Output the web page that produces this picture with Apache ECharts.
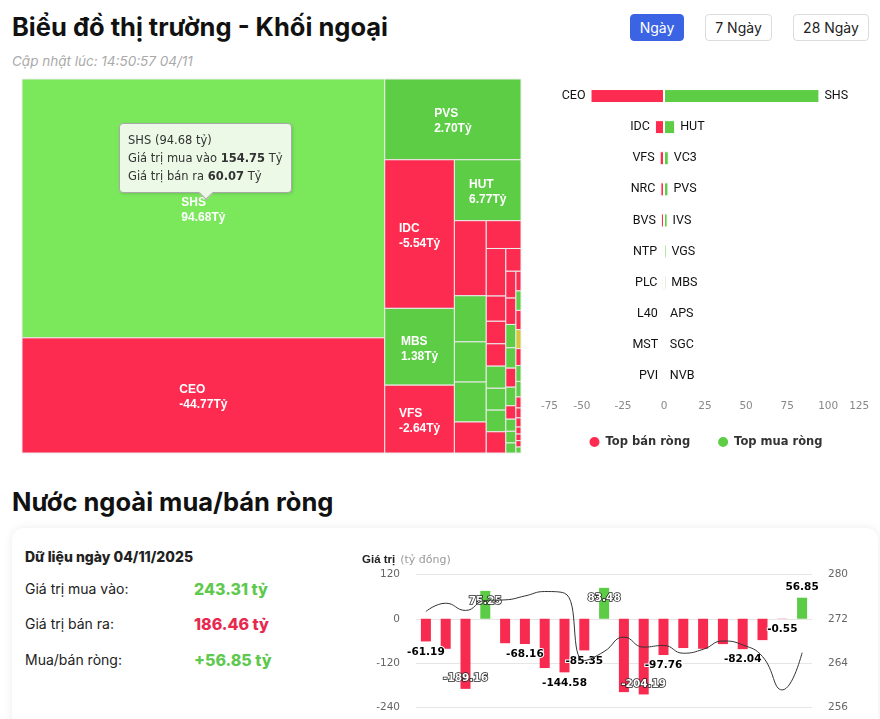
<!DOCTYPE html>
<html lang="vi">
<head>
<meta charset="utf-8">
<title>Biểu đồ thị trường - Khối ngoại</title>
<script src="https://cdn.jsdelivr.net/npm/echarts@6.0.0/dist/echarts.min.js"></script>
<style>
  html, body { margin: 0; padding: 0; width: 880px; height: 719px; overflow: hidden; background: #fff; font-family: Inter, 'Noto Sans', sans-serif; color: #111; }
  .abs { position: absolute; white-space: nowrap; }
  .h1 { font-size: 25.5px; font-weight: 700; line-height: 32px; color: #111; }
  .sub { font-size: 13.5px; font-style: italic; line-height: 20px; color: #aaa; }
  .btn { height: 27px; box-sizing: border-box; border: 1px solid #dcdcdc; border-radius: 4px; font-size: 14px; display: flex; align-items: center; justify-content: center; color: #222; background: #fff; }
  .btn.on { background: #3b64e5; border-color: #3b64e5; color: #fff; }
  .card { left: 12px; top: 528px; width: 866px; height: 230px; border-radius: 12px; background: #fff; box-shadow: 0 0 10px rgba(0,0,0,0.08); }
  .lbl { font-size: 14px; line-height: 20px; color: #222; }
  .val { font-size: 16px; font-weight: 800; line-height: 20px; }
</style>
</head>
<body>
<div class="abs h1" style="left:12px;top:11px;">Biểu đồ thị trường - Khối ngoại</div>
<div class="abs sub" style="left:12px;top:51px;">Cập nhật lúc: 14:50:57 04/11</div>
<div class="abs btn on" style="left:630px;top:14px;width:54px;">Ngày</div>
<div class="abs btn" style="left:705px;top:14px;width:67px;">7 Ngày</div>
<div class="abs btn" style="left:793px;top:14px;width:76px;">28 Ngày</div>

<div id="map" class="abs" style="left:0;top:60px;width:530px;height:400px;"></div>
<div id="top" class="abs" style="left:530px;top:75px;width:350px;height:385px;"></div>

<div class="abs h1" style="left:12px;top:486px;">Nước ngoài mua/bán ròng</div>
<div class="abs card"></div>
<div class="abs lbl" style="left:25px;top:547px;font-weight:800;">Dữ liệu ngày 04/11/2025</div>
<div class="abs lbl" style="left:25px;top:579px;">Giá trị mua vào:</div>
<div class="abs lbl" style="left:25px;top:614px;">Giá trị bán ra:</div>
<div class="abs lbl" style="left:25px;top:650px;">Mua/bán ròng:</div>
<div class="abs val" style="left:194px;top:579px;color:#5fc94f;">243.31 tỷ</div>
<div class="abs val" style="left:194px;top:614px;color:#e8294f;">186.46 tỷ</div>
<div class="abs val" style="left:194px;top:650px;color:#5fc94f;">+56.85 tỷ</div>
<div id="flow" class="abs" style="left:350px;top:540px;width:530px;height:200px;"></div>

<script>
// treemap: total traded value (tỷ) and net value per ticker
const mapNames = ['SHS', 'CEO', 'PVS', 'IDC', 'MBS', 'VFS', 'HUT', 'NRC', 'VC3', 'IVS', 'VGS', 'BVS',
  'NTP', 'PLC', 'L40', 'MST', 'PVI', 'APS', 'SGC', 'NVB', 'DDG', 'TNG', 'PVC', 'DTD', 'BCC', 'TIG',
  'HLD', 'VCS', 'LAS', 'DXP', 'PVB', 'THD', 'NBC', 'CAP', 'SLS', 'TVD', 'HHC', 'PVG', 'KLF', 'VIG',
  'SHN', 'BAB', 'AMV', 'ITQ', 'VNR', 'SCG'];
const mapTotals = [214.82, 95.57, 25.18, 23.68, 12.24, 10.81, 9.28, 5.47, 3.36, 2.93, 2.91, 2.26,
  2.21, 2.13, 1.13, 1.01, 1.00, 0.99, 0.98, 0.97, 0.95, 0.79, 0.62, 0.61, 0.54, 0.47,
  0.44, 0.43, 0.31, 0.28, 0.27, 0.232, 0.228, 0.225, 0.223, 0.219, 0.196, 0.184, 0.18, 0.127,
  0.115, 0.106, 0.081, 0.076, 0.074, 0.069];
const mapNets = [94.68, -44.77, 2.70, -5.54, 1.38, -2.64, 6.77, -2.2, 2.9, 2.2, 1.5, -1.9,
  -1.2, -1.0, -0.8, -0.4, -0.35, 0.6, 0.35, 0.3, -0.3, -0.28, -0.25, -0.2, 0.25, 0.2,
  -0.18, 0.15, -0.12, 0.1, 0.08, 0.06, -0.1, 0.05, -0.08, 0, -0.06, 0.04, 0.03, -0.05,
  -0.04, -0.03, -0.02, -0.02, -0.01, 0.01];
const hoverName = 'SHS';

// top 10 net sell / net buy axis
const topTicks = [-75, -50, -25, 0, 25, 50, 75, 100, 125];

// daily foreign net flow (tỷ đồng) and index line
const dayLabels = ['08/10', '09/10', '10/10', '13/10', '14/10', '15/10', '16/10', '17/10', '20/10', '21/10',
  '22/10', '23/10', '24/10', '27/10', '28/10', '29/10', '30/10', '31/10', '03/11', '04/11'];
const netFlow = [-61.19, -81, -189.16, 75.25, -66, -68.16, -133, -144.58, -85.35, 83.48,
  -198, -204.19, -97.76, -79, -81, -68.4, -82.04, -57.6, -0.55, 56.85];
const indexLine = [273.3, 274.8, 273.5, 275.3, 275.4, 276.1, 276.9, 276.6, 264.5, 266.1,
  268.7, 266.9, 267.2, 265.8, 266.5, 268.0, 267.3, 265.2, 259.2, 265.9];
const labelledDays = [0, 2, 3, 5, 7, 8, 9, 11, 12, 16, 18, 19];
const flowTicks = [-240, -120, 0, 120];
const indexTicks = [256, 264, 272, 280];

const RED = '#fd2b50';
const GREEN = '#5dcd46';

// squarified layout with alternating direction
function squarified(values, W, H) {
  const total = values.reduce((s, v) => s + v, 0);
  const areas = values.map(v => v * W * H / total);
  const rects = [];
  let rx = 0, ry = 0, rw = W, rh = H, dir = 0;
  let row = [], rowSum = 0;
  const ratio = (a, b) => Math.max(a / b, b / a);
  function place() {
    if (dir === 0) {
      const cw = rowSum / rh;
      let y = ry;
      row.forEach(a => { rects.push({ x: rx, y: y, w: cw, h: a / cw }); y += a / cw; });
      rx += cw; rw -= cw;
    } else {
      const ch = rowSum / rw;
      let x = rx;
      row.forEach(a => { rects.push({ x: x, y: ry, w: a / ch, h: ch }); x += a / ch; });
      ry += ch; rh -= ch;
    }
    dir = 1 - dir;
    row = []; rowSum = 0;
  }
  areas.forEach(a => {
    if (row.length) {
      const prev = row[row.length - 1];
      const side = dir === 0 ? rh : rw;
      const oldT = rowSum / side, newT = (rowSum + a) / side;
      if (ratio(newT, prev / newT) > ratio(oldT, prev / oldT)) place();
    }
    row.push(a); rowSum += a;
  });
  if (row.length) place();
  return rects;
}

let mapLayout = null;

const mapChart = echarts.init(document.getElementById('map'));
mapChart.setOption({
  animation: false,
  grid: { left: 22, top: 19, width: 499, height: 374, outerBoundsMode: 'none' },
  xAxis: { type: 'value', min: 0, max: 1, show: false },
  yAxis: { type: 'value', min: 0, max: 1, inverse: true, show: false },
  tooltip: {
    trigger: 'item',
    triggerOn: 'none',
    alwaysShowContent: true,
    transitionDuration: 0,
    position: [119, 63],
    backgroundColor: '#ecf9e6',
    borderColor: '#a8a8a8',
    borderWidth: 1,
    padding: [7, 8],
    textStyle: { fontFamily: 'DejaVu Sans', fontSize: 11.5, color: '#333' },
    extraCssText: 'border-radius:4px;box-shadow:1px 1px 3px rgba(0,0,0,0.15);line-height:18px;',
    formatter: p => {
      const i = p.dataIndex;
      const buy = (mapTotals[i] + mapNets[i]) / 2;
      const sell = (mapTotals[i] - mapNets[i]) / 2;
      return mapNames[i] + ' (' + mapNets[i].toFixed(2) + ' tỷ)<br>' +
        'Giá trị mua vào <b>' + buy.toFixed(2) + '</b> Tỷ<br>' +
        'Giá trị bán ra <b>' + sell.toFixed(2) + '</b> Tỷ' +
        '<div style="position:absolute;left:81px;bottom:-6px;width:9px;height:9px;background:#ecf9e6;' +
        'border-right:1px solid #a8a8a8;border-bottom:1px solid #a8a8a8;transform:rotate(45deg);"></div>';
    }
  },
  series: [{
    type: 'custom',
    data: mapNames.map((n, i) => ({ name: n, value: [mapTotals[i], mapNets[i]] })),
    encode: { x: [], y: [] },
    renderItem: (params, api) => {
      const cs = params.coordSys;
      if (!mapLayout) mapLayout = squarified(mapTotals, cs.width, cs.height);
      const i = params.dataIndex;
      const r = mapLayout[i];
      const p0 = api.coord([r.x / cs.width, r.y / cs.height]);
      const p1 = api.coord([(r.x + r.w) / cs.width, (r.y + r.h) / cs.height]);
      const w = p1[0] - p0[0], h = p1[1] - p0[1];
      const net = mapNets[i];
      let color = net > 0 ? GREEN : (net < 0 ? RED : '#d8c63a');
      if (mapNames[i] === hoverName) color = '#7be85c';
      const el = {
        type: 'rect',
        shape: { x: p0[0], y: p0[1], width: w, height: h },
        style: { fill: color, stroke: '#ececec', lineWidth: 1 }
      };
      if (w > 50 && h > 40) {
        el.textContent = {
          style: {
            text: '{n|' + mapNames[i] + '}\n{n|' + net.toFixed(2) + 'Tỷ}',
            rich: { n: { align: 'left', fontFamily: 'Liberation Sans', fontWeight: 'bold', fontSize: 12, lineHeight: 15, fill: '#fff' } }
          }
        };
        el.textConfig = { position: 'inside', offset: [0, 2] };
      }
      return el;
    }
  }]
});
mapChart.dispatchAction({ type: 'showTip', seriesIndex: 0, dataIndex: mapNames.indexOf(hoverName) });

// top 10 from the same data
const order = mapNames.map((n, i) => i);
const sells = order.filter(i => mapNets[i] < 0).sort((a, b) => mapNets[a] - mapNets[b]).slice(0, 10);
const buys = order.filter(i => mapNets[i] > 0).sort((a, b) => mapNets[b] - mapNets[a]).slice(0, 10);

const topChart = echarts.init(document.getElementById('top'));
const nameLabel = { fontFamily: 'Roboto', fontSize: 12.5, color: '#111', distance: 5 };
topChart.setOption({
  animation: false,
  grid: { left: 10.9, right: 10.8, top: 5.5, height: 311, outerBoundsMode: 'none' },
  legend: {
    data: ['Top bán ròng', 'Top mua ròng'],
    left: 'center', top: 355, icon: 'circle', itemWidth: 12, itemHeight: 12, itemGap: 26,
    textStyle: { fontFamily: 'DejaVu Sans', fontSize: 11.5, fontWeight: 'bold', color: '#333' }
  },
  xAxis: {
    type: 'value',
    min: topTicks[0], max: topTicks[topTicks.length - 1], interval: topTicks[1] - topTicks[0],
    axisLine: { show: false }, axisTick: { show: false }, splitLine: { show: false },
    axisLabel: { color: '#888', fontFamily: 'DejaVu Sans', fontSize: 10.5, margin: 9, alignMinLabel: 'left', alignMaxLabel: 'right' }
  },
  yAxis: { type: 'category', inverse: true, show: false, data: sells.map((s, k) => k) },
  series: [{
    name: 'Top bán ròng', type: 'bar', stack: 'net', barWidth: 14,
    itemStyle: { color: RED, borderColor: '#fff', borderWidth: 1 },
    label: Object.assign({ show: true, position: 'left', formatter: p => mapNames[sells[p.dataIndex]] }, nameLabel),
    data: sells.map(i => mapNets[i])
  }, {
    name: 'Top mua ròng', type: 'bar', stack: 'net', barWidth: 14,
    itemStyle: { color: GREEN, borderColor: '#fff', borderWidth: 1 },
    label: Object.assign({ show: true, position: 'right', formatter: p => mapNames[buys[p.dataIndex]] }, nameLabel),
    data: buys.map(i => mapNets[i])
  }]
});

// daily net flow chart
const flowChart = echarts.init(document.getElementById('flow'));
const outLabel = { color: '#000', textBorderColor: '#fff', textBorderWidth: 2 };
const inLabel = { color: '#fff', textBorderColor: '#222', textBorderWidth: 1.5 };
const flowData = netFlow.map((v, i) => {
  const inside = v > 70 || v < -180;
  const pos = v >= 0 ? (inside ? 'insideTop' : 'top') : (inside ? 'insideBottom' : 'bottom');
  return {
    value: v,
    itemStyle: { color: v >= 0 ? '#5ccb45' : '#f72a4f' },
    label: Object.assign({ show: labelledDays.includes(i), position: pos }, inside ? inLabel : outLabel)
  };
});
flowChart.setOption({
  animation: false,
  title: {
    text: '{b|Giá trị} {g|(tỷ đồng)}', left: 12, top: 11, padding: 0,
    textStyle: {
      rich: {
        b: { fontFamily: 'Liberation Sans', fontWeight: 'bold', fontSize: 11.5, color: '#222' },
        g: { fontFamily: 'DejaVu Sans', fontWeight: 'normal', fontSize: 11, color: '#999' }
      }
    }
  },
  grid: { left: 66, right: 68, top: 34.3, height: 133.4, outerBoundsMode: 'none' },
  xAxis: {
    type: 'category', data: dayLabels,
    axisLine: { show: false, onZero: false }, axisTick: { show: false },
    axisLabel: { margin: 16, color: '#666', fontSize: 10.5 }
  },
  yAxis: [{
    type: 'value', min: flowTicks[0], max: flowTicks[flowTicks.length - 1], interval: flowTicks[1] - flowTicks[0],
    splitLine: { lineStyle: { color: '#e6e6e6' } },
    axisLabel: { color: '#666', fontFamily: 'DejaVu Sans', fontSize: 10.5, margin: 16 }
  }, {
    type: 'value', min: indexTicks[0], max: indexTicks[indexTicks.length - 1], interval: indexTicks[1] - indexTicks[0],
    splitLine: { show: false },
    axisLabel: { color: '#666', fontFamily: 'DejaVu Sans', fontSize: 10.5, margin: 16 }
  }],
  series: [{
    name: 'Mua/bán ròng', type: 'bar', barWidth: 10,
    label: { fontFamily: 'DejaVu Sans', fontWeight: 'bold', fontSize: 10.5, distance: 5, formatter: p => p.value.toFixed(2) },
    data: flowData
  }, {
    name: 'HNX-Index', type: 'line', yAxisIndex: 1, smooth: true, showSymbol: false,
    lineStyle: { color: '#333', width: 1 },
    data: indexLine
  }]
});
</script>
</body>
</html>
